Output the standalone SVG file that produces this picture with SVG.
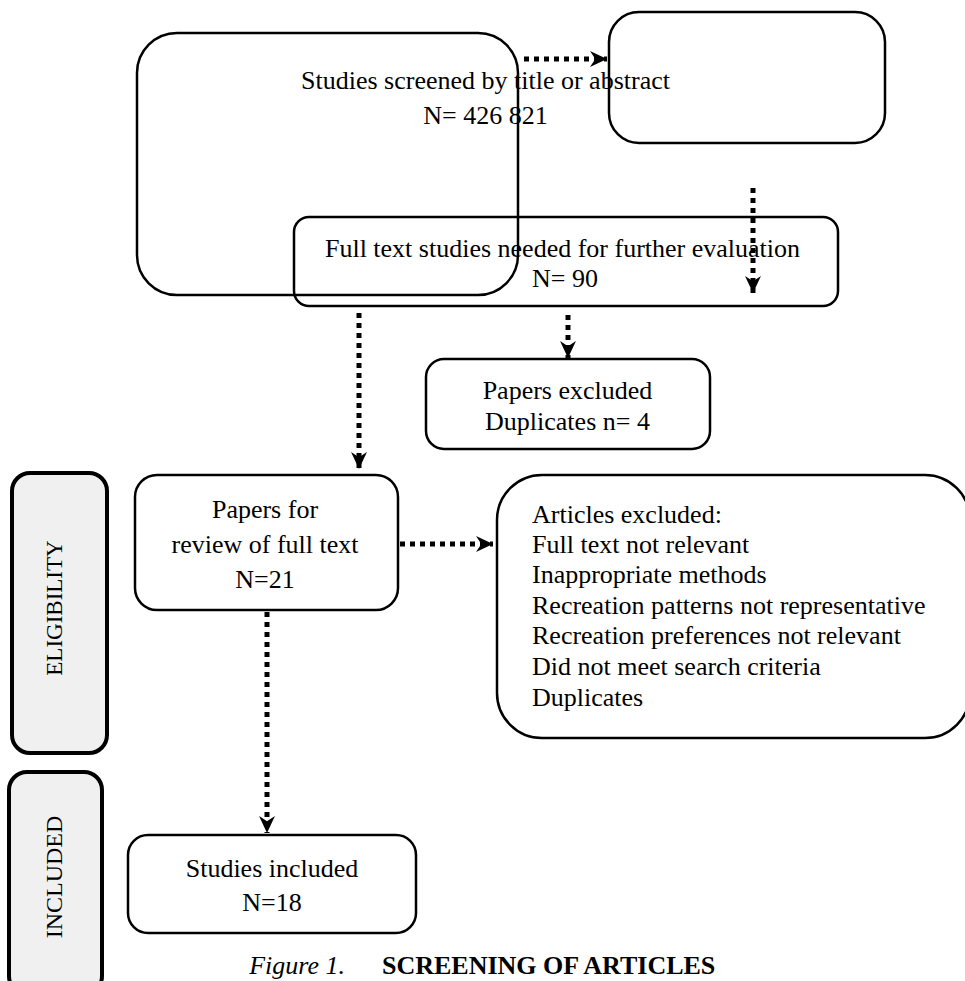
<svg xmlns="http://www.w3.org/2000/svg" width="965" height="981" viewBox="0 0 965 981">
  <defs>
    <marker id="ah" viewBox="0 0 16 16" refX="16" refY="8" markerWidth="17" markerHeight="17" markerUnits="userSpaceOnUse" orient="auto">
      <path d="M0,0.5 L16,8 L0,15.5 L5,8 z" fill="#000"/>
    </marker>
  </defs>
  <style>
    .box { fill: none; stroke: #000; stroke-width: 2.5; }
    .side { fill: #f0f0f0; stroke: #000; stroke-width: 4; }
    .t { font-family: "Liberation Serif", "Times New Roman", serif; font-size: 26px; fill: #000; }
    .c { text-anchor: middle; }
    .s { font-family: "Liberation Serif", "Times New Roman", serif; font-size: 23px; fill: #000; text-anchor: middle; }
    .conn { fill: none; stroke: #000; stroke-width: 5; stroke-dasharray: 5 5; marker-end: url(#ah); }
  </style>
  <rect width="965" height="981" fill="#fff"/>

  <g id="connectors">
    <line class="conn" x1="524" y1="59" x2="607" y2="59"/>
    <line class="conn" x1="753" y1="188" x2="753" y2="293"/>
    <line class="conn" x1="568" y1="315" x2="568" y2="358"/>
    <line class="conn" x1="359" y1="313" x2="359" y2="469"/>
    <line class="conn" x1="400" y1="544" x2="493" y2="544"/>
    <line class="conn" x1="267" y1="612" x2="267" y2="833"/>
  </g>

  <g id="screened">
    <rect class="box" x="137" y="33" width="381" height="262" rx="40"/>
    <text class="t c" x="485.5" y="89">Studies screened by title or abstract</text>
    <text class="t c" x="485.5" y="124">N= 426 821</text>
  </g>

  <g id="empty-box">
    <rect class="box" x="609" y="12" width="276" height="131" rx="30"/>
  </g>

  <g id="fulltext">
    <rect class="box" x="294" y="217" width="544" height="89" rx="15"/>
    <text class="t c" x="562.5" y="257">Full text studies needed for further evaluation</text>
    <text class="t c" x="565" y="287">N= 90</text>
  </g>

  <g id="papers-excluded">
    <rect class="box" x="426" y="359" width="284" height="90" rx="18"/>
    <text class="t c" x="567.5" y="399">Papers excluded</text>
    <text class="t c" x="567.5" y="430">Duplicates n= 4</text>
  </g>

  <g id="papers-review">
    <rect class="box" x="135" y="475" width="263" height="135" rx="22"/>
    <text class="t c" x="265" y="518">Papers for</text>
    <text class="t c" x="265" y="553">review of full text</text>
    <text class="t c" x="265" y="588">N=21</text>
  </g>

  <g id="articles-excluded">
    <rect class="box" x="497" y="475" width="473" height="263" rx="45"/>
    <text class="t" x="532" y="523">Articles excluded:</text>
    <text class="t" x="532" y="553">Full text not relevant</text>
    <text class="t" x="532" y="583">Inappropriate methods</text>
    <text class="t" x="532" y="614">Recreation patterns not representative</text>
    <text class="t" x="532" y="644">Recreation preferences not relevant</text>
    <text class="t" x="532" y="675">Did not meet search criteria</text>
    <text class="t" x="532" y="706">Duplicates</text>
  </g>

  <g id="studies-included">
    <rect class="box" x="128" y="835" width="288" height="98" rx="20"/>
    <text class="t c" x="272" y="877">Studies included</text>
    <text class="t c" x="272" y="911">N=18</text>
  </g>

  <g id="eligibility">
    <rect class="side" x="12" y="473" width="95" height="280" rx="18"/>
    <text class="s" transform="translate(62,608) rotate(-90)">ELIGIBILITY</text>
  </g>

  <g id="included">
    <rect class="side" x="9" y="772" width="93" height="222" rx="18"/>
    <text class="s" transform="translate(62,877) rotate(-90)" style="font-size:24px">INCLUDED</text>
  </g>

  <g id="caption">
    <text class="t" x="345" y="974" text-anchor="end" font-style="italic">Figure 1.</text>
    <text class="t" x="382" y="974" font-weight="bold">SCREENING OF ARTICLES</text>
  </g>
</svg>
